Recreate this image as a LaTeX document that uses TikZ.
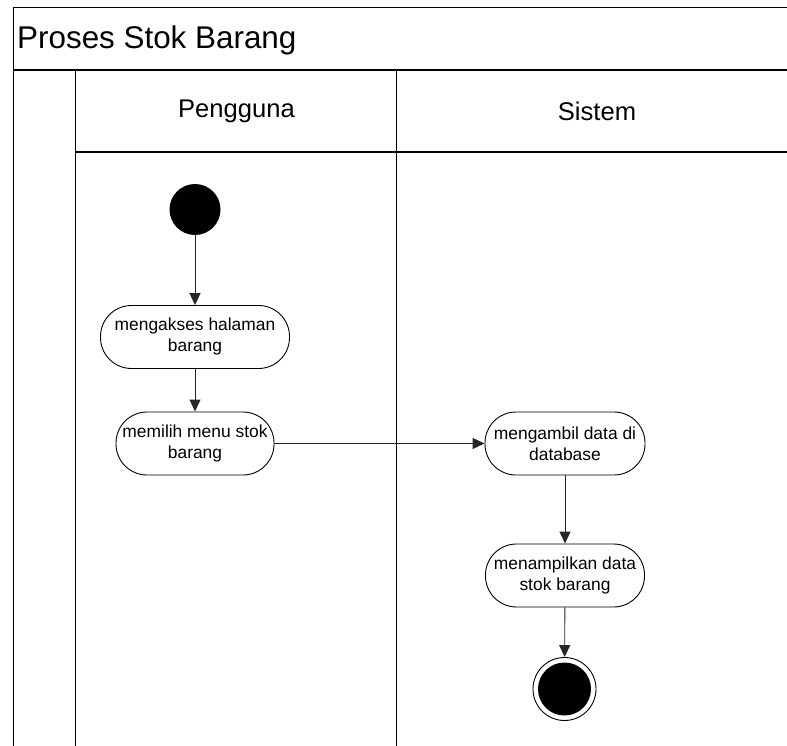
\documentclass[tikz,border=0pt]{standalone}
\usepackage{fontspec}
\setmainfont{Liberation Sans}
\usetikzlibrary{arrows.meta}
\tikzset{
  frame/.style={line width=1pt, black},
  act/.style={draw, line width=0.9pt, rectangle, rounded corners=31pt, minimum height=63pt, inner sep=0pt, align=center, font=\fontsize{17.4}{21}\selectfont},
  flow/.style={line width=0.9pt, draw=black!85, -{Triangle[length=12pt,width=11pt]}},
  lanehead/.style={font=\fontsize{25.6}{30}\selectfont, inner sep=0pt},
}
\begin{document}
\begin{tikzpicture}[x=1pt,y=-1pt]
\useasboundingbox (0,0) rectangle (787,746);
% frame
\coordinate (tl) at (13,8);
\coordinate (tr) at (787,8);
\coordinate (bl) at (13,746);
\draw[frame] (tr) -- (tl) -- (bl);
\coordinate (s1) at (13,70);
\coordinate (s2) at (787,70);
\draw[frame, line width=1.4pt] (s1) -- (s2);
\coordinate (c1) at (75,70);
\coordinate (c2) at (75,746);
\draw[frame] (c1) -- (c2);
\coordinate (d1) at (396,70);
\coordinate (d2) at (396,746);
\draw[frame] (d1) -- (d2);
\coordinate (h1) at (75,152);
\coordinate (h2) at (787,152);
\draw[frame, line width=1.4pt] (h1) -- (h2);
% texts
\node[anchor=west, inner sep=0pt, font=\fontsize{31.4}{36}\selectfont] (title) at (17,40) {Proses Stok Barang};
\node[lanehead] (pengguna) at (236.5,111.5) {Pengguna};
\node[lanehead] (sistem) at (597,111.5) {Sistem};
% activity nodes
\node[circle, fill=black, minimum size=51pt, inner sep=0pt] (start) at (195,209.5) {};
\node[act, minimum width=189pt] (a1) at (195,337) {mengakses halaman\\barang};
\node[act, minimum width=158pt] (a2) at (195,443.5) {memilih menu stok\\barang};
\node[act, minimum width=160pt] (a3) at (565,443.5) {mengambil data di\\database};
\node[act, minimum width=159pt] (a4) at (565,575.5) {menampilkan data\\stok barang};
\node[circle, draw, line width=0.9pt, minimum size=63pt, inner sep=0pt] (end) at (564.5,689) {};
\fill (end.center) circle (26.5);
% flows
\draw[flow] (start) -- (a1);
\draw[flow] (a1) -- (a2);
\draw[flow] (a2) -- (a3);
\draw[flow] (a3) -- (a4);
\draw[flow] (a4) -- (end);
\end{tikzpicture}
\end{document}
